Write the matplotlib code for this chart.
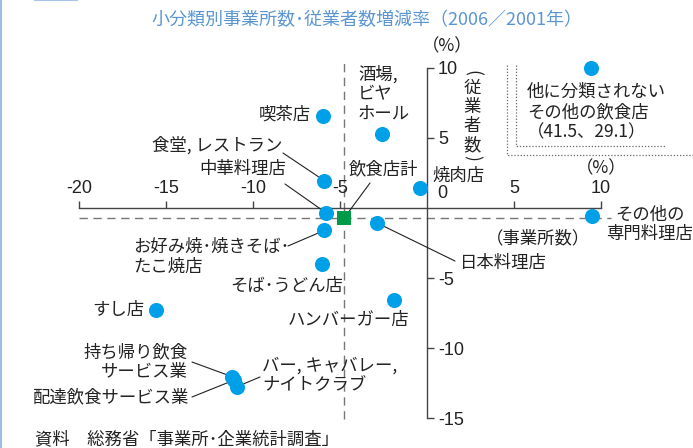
import matplotlib
matplotlib.use("Agg")
import matplotlib.pyplot as plt
from matplotlib.lines import Line2D

# ---------------- data (percent change 2006/2001) ----------------
categories = ["喫茶店", "酒場, ビヤホール", "食堂, レストラン", "中華料理店", "焼肉店",
              "お好み焼･焼きそば･たこ焼店", "そば･うどん店", "日本料理店", "ハンバーガー店",
              "すし店", "持ち帰り飲食サービス業", "配達飲食サービス業",
              "バー, キャバレー, ナイトクラブ", "その他の専門料理店"]
establishments = [-6.0, -2.6, -5.9, -5.8, -0.4, -5.9, -6.05, -2.9, -1.9,
                  -15.6, -11.2, -11.1, -10.9, 9.5]
employees = [6.6, 5.25, 1.95, -0.35, 1.45, -1.6, -4.0, -1.05, -6.55,
             -7.3, -12.05, -12.3, -12.75, -0.55]

total_label = "飲食店計"
total_establishments = -4.75
total_employees = -0.7

# off-scale category (actual values) and where the chart shows it (inset corner)
other_label = "他に分類されない\nその他の飲食店"
other_actual = (41.5, 29.1)
other_shown = (9.4, 10.0)

x_ticks = [-20, -15, -10, -5, 5, 10]
y_ticks = [-15, -10, -5, 5, 10]

title = "小分類別事業所数･従業者数増減率（2006／2001年）"
source = "資料　総務省「事業所･企業統計調査」"

# ---------------- figure ----------------
W, H = 693, 448
plt.rcParams["font.family"] = ["Noto Sans CJK JP", "DejaVu Sans"]
fig = plt.figure(figsize=(W / 100, H / 100), dpi=100)
TXT = "#222222"
AX = "#444444"
BLUE = "#00a0e9"
FS = 12.5


def fpt(x, y):
    return (x / W, 1 - y / H)


def fline(xs, ys, **kw):
    fig.add_artist(Line2D([x / W for x in xs], [1 - y / H for y in ys],
                          transform=fig.transFigure, **kw))


def ftext(x, y, s, **kw):
    kw.setdefault("fontsize", FS)
    kw.setdefault("color", TXT)
    fig.text(x / W, 1 - y / H, s, **kw)


ax = fig.add_axes([79 / W, 30 / H, 522 / W, 350 / H])
ax.set_xlim(-20, 10)
ax.set_ylim(-15, 10)
ax.patch.set_alpha(0)

for s in ["left", "bottom"]:
    ax.spines[s].set_visible(False)
ax.spines["top"].set_position(("data", 0))
ax.spines["right"].set_position(("data", 0))
ax.spines["top"].set_bounds(-20, 10)
ax.spines["right"].set_bounds(-15, 10)
for s in ["top", "right"]:
    ax.spines[s].set_color(AX)
    ax.spines[s].set_linewidth(1.0)
ax.xaxis.tick_top()
ax.yaxis.tick_right()
ax.set_xticks(x_ticks)
ax.set_xticklabels([str(v) for v in x_ticks], family="Liberation Sans")
ax.set_yticks(y_ticks)
ax.set_yticklabels([str(v) for v in y_ticks], family="Liberation Sans")
ax.tick_params(axis="both", direction="out", length=5, width=1.0, color=AX,
               labelsize=13, labelcolor=TXT)
ax.tick_params(axis="x", pad=3)
ax.tick_params(axis="y", pad=3)
ftext(437, 193, "0", family="Liberation Sans", fontsize=13, ha="left", va="center")

# reference dashed lines through total
ax.plot([total_establishments, total_establishments], [-15.1, 10.7], ls=(0, (6, 4)),
        color="#777777", lw=1.0, clip_on=False, zorder=1)
ax.plot([-20, 10.6], [total_employees, total_employees], ls=(0, (6, 4)),
        color="#777777", lw=1.0, clip_on=False, zorder=1)

# points
ax.scatter(establishments, employees, s=118, c=BLUE, linewidths=0, zorder=5, clip_on=False)
ax.scatter([other_shown[0]], [other_shown[1]], s=118, c=BLUE, linewidths=0, zorder=5,
           clip_on=False)
ax.scatter([total_establishments], [total_employees], marker="s", s=100, c="#009b48",
           linewidths=0, zorder=6, clip_on=False)

# ---------------- labels (text position in pixels from top-left) ----------------
# (text, x, y, ha, leader start or None)
labels = {
    "喫茶店": ("喫茶店", 311, 115, "right", None),
    "酒場, ビヤホール": ("酒場,\nビヤ\nホール", 358, 94, "left", None),
    "食堂, レストラン": ("食堂, レストラン", 282, 145, "right", (283, 153)),
    "中華料理店": ("中華料理店", 286, 169, "right", (285, 184)),
    "焼肉店": ("焼肉店", 432, 176, "left", None),
    "お好み焼･焼きそば･たこ焼店": ("お好み焼･焼きそば･\nたこ焼店", 133, 257, "left", (288, 246)),
    "そば･うどん店": ("そば･うどん店", 230, 286, "left", None),
    "日本料理店": ("日本料理店", 460, 263, "left", (455, 261)),
    "ハンバーガー店": ("ハンバーガー店", 288, 320, "left", None),
    "すし店": ("すし店", 144, 310, "right", None),
    "持ち帰り飲食サービス業": ("持ち帰り飲食\nサービス業", 188, 362, "right", (192, 362)),
    "配達飲食サービス業": ("配達飲食サービス業", 188, 397, "right", (192, 397)),
    "バー, キャバレー, ナイトクラブ": ("バー, キャバレー,\nナイトクラブ", 262, 375, "left", (260, 377)),
    "その他の専門料理店": ("その他の\n専門料理店", 650, 224, "center", None),
}

for cat, xv, yv in zip(categories, establishments, employees):
    txt, px, py, ha, lead = labels[cat]
    ftext(px, py, txt, ha=ha, va="center", linespacing=1.1, multialignment=ha)
    if lead is not None:
        ax.annotate("", xy=(xv, yv), xytext=fpt(*lead), textcoords="figure fraction",
                    arrowprops=dict(arrowstyle="-", lw=0.8, color=TXT, shrinkA=0, shrinkB=0),
                    zorder=3, annotation_clip=False)

ftext(349, 169, total_label, ha="left", va="center")
ax.annotate("", xy=(total_establishments, total_employees), xytext=fpt(370, 183),
            textcoords="figure fraction",
            arrowprops=dict(arrowstyle="-", lw=0.8, color=TXT, shrinkA=0, shrinkB=0),
            zorder=3, annotation_clip=False)

# off-scale inset
ftext(527, 112, other_label + f"\n（{other_actual[0]}、{other_actual[1]}）",
      ha="left", va="center", linespacing=1.15)
dot = dict(color="#666666", lw=0.9, ls=(0, (1, 1.5)))
fline([507, 507, 693], [65, 155, 155], **dot)
fline([516, 516, 665], [65, 146, 146], **dot)

# axis captions
ftext(447, 46, "（%）", ha="center", va="center")
ftext(601, 168, "（%）", ha="center", va="center")
ftext(538, 238, "（事業所数）", ha="center", va="center")
for ch, yy in zip("従業者数", [88, 107, 126, 145]):
    ftext(472, yy, ch, ha="center", va="center")
ftext(472, 73, "(", ha="center", va="center", rotation=-90)
ftext(472, 158, ")", ha="center", va="center", rotation=-90)

# title / source / decoration
ftext(367, 20, title, ha="center", va="center", color="#5b96d3", fontsize=13)
ftext(35, 439, source, ha="left", va="center", fontsize=12.5)
fline([1, 1], [0, 448], color="#9dbde6", lw=1.5)
fline([35, 77], [0.5, 0.5], color="#a9c4ea", lw=1.5)

fig.savefig("out.png", dpi=100)
